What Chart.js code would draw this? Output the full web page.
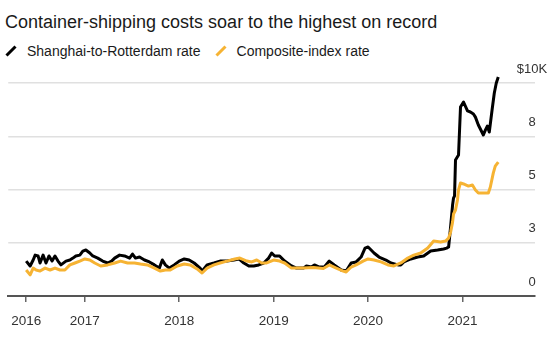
<!DOCTYPE html>
<html>
<head>
<meta charset="utf-8">
<script src="https://cdn.jsdelivr.net/npm/chart.js@4.4.1/dist/chart.umd.min.js"></script>
<style>
  html, body { margin: 0; padding: 0; background: #fff; }
  #wrap { position: relative; width: 554px; height: 337px; overflow: hidden;
          font-family: "Liberation Sans", Arial, Helvetica, sans-serif; }
  #title { position: absolute; left: 5px; top: 13px; font-size: 18px; line-height: 18px;
           color: #1a1a1a; white-space: nowrap; }
  #legend { position: absolute; left: 5px; top: 44px; font-size: 14px; line-height: 14px;
            color: #1a1a1a; white-space: nowrap; display: flex; align-items: center; }
  .key { display: flex; align-items: center; margin-right: 14px; }
  .key svg { margin-right: 10px; }
  canvas { position: absolute; left: 0; top: 0; }
</style>
</head>
<body>
<div id="wrap">
  <div id="title">Container-shipping costs soar to the highest on record</div>
  <div id="legend"></div>
  <canvas id="chart" width="554" height="337"></canvas>
</div>
<script>
// Weekly freight rates, US$ per 40-ft container; dates as decimal years
const srDates = [
  2016.379, 2016.421, 2016.453, 2016.474, 2016.505, 2016.526, 2016.558, 2016.589, 2016.621, 2016.653,
  2016.684, 2016.716, 2016.747, 2016.800, 2016.842, 2016.874, 2016.905, 2016.947, 2016.979,
  2017.011, 2017.053, 2017.084, 2017.137, 2017.189, 2017.242, 2017.284, 2017.316, 2017.368, 2017.421,
  2017.474, 2017.505, 2017.537, 2017.579, 2017.632, 2017.684, 2017.737, 2017.789, 2017.821, 2017.853,
  2017.895, 2017.947,
  2018.000, 2018.053, 2018.105, 2018.158, 2018.221, 2018.242, 2018.295, 2018.368, 2018.432, 2018.505,
  2018.579, 2018.632, 2018.684, 2018.737, 2018.789, 2018.842, 2018.895, 2018.947, 2018.979,
  2019.011, 2019.063, 2019.116, 2019.189, 2019.242, 2019.316, 2019.347, 2019.400, 2019.432, 2019.484,
  2019.537, 2019.589, 2019.642, 2019.716, 2019.768, 2019.821, 2019.874, 2019.926, 2019.968,
  2020.000, 2020.032, 2020.063, 2020.116, 2020.189, 2020.242, 2020.316, 2020.347, 2020.379, 2020.453,
  2020.526, 2020.589, 2020.663, 2020.737, 2020.800, 2020.832, 2020.853, 2020.874, 2020.895, 2020.905,
  2020.916, 2020.926, 2020.958, 2020.979,
  2021.011, 2021.053, 2021.084, 2021.116, 2021.137, 2021.168, 2021.200, 2021.221, 2021.242, 2021.263,
  2021.284, 2021.316, 2021.337, 2021.358, 2021.379
];
const srRates = [
  1640, 1410, 1690, 1920, 1880, 1550, 1920, 1550, 1880, 1640,
  1880, 1640, 1460, 1640, 1690, 1780, 1880, 1920, 2110,
  2160, 2020, 1880, 1780, 1640, 1550, 1640, 1780, 1920, 1880,
  1780, 1970, 1780, 1830, 1690, 1600, 1460, 1310, 1690, 1460,
  1310, 1460,
  1640, 1740, 1690, 1550, 1310, 1170, 1460, 1550, 1640, 1640,
  1690, 1740, 1550, 1410, 1410, 1460, 1550, 1780, 2020,
  1880, 1880, 1640, 1410, 1310, 1310, 1410, 1360, 1460, 1360,
  1360, 1640, 1460, 1220, 1170, 1550, 1600, 1830, 2250,
  2300, 2160, 2020, 1830, 1690, 1550, 1460, 1460, 1600, 1740,
  1830, 1880, 2110, 2160, 2210, 2250, 2300, 3240, 4270, 4600,
  4700, 6390, 6620, 8870,
  9110, 8690, 8640, 8550, 8400, 8030, 7750, 7560, 7790, 7980,
  7700, 8830, 9530, 10000, 10280
];
const ciDates = [
  2016.379, 2016.421, 2016.453, 2016.484, 2016.526, 2016.579, 2016.632, 2016.684, 2016.737, 2016.789,
  2016.842, 2016.895, 2016.947,
  2017.000, 2017.053, 2017.105, 2017.168, 2017.242, 2017.316, 2017.379, 2017.453, 2017.526, 2017.589,
  2017.663, 2017.737, 2017.800, 2017.853, 2017.905, 2017.979,
  2018.053, 2018.116, 2018.189, 2018.242, 2018.295, 2018.368, 2018.432, 2018.505, 2018.589, 2018.642,
  2018.716, 2018.768, 2018.821, 2018.874, 2018.926,
  2019.000, 2019.063, 2019.116, 2019.189, 2019.242, 2019.316, 2019.421, 2019.526, 2019.589, 2019.663,
  2019.737, 2019.768, 2019.821, 2019.874, 2019.947,
  2020.000, 2020.063, 2020.137, 2020.211, 2020.274, 2020.347, 2020.421, 2020.484, 2020.558, 2020.632,
  2020.695, 2020.768, 2020.821, 2020.853, 2020.874, 2020.895, 2020.905, 2020.926, 2020.947, 2020.958,
  2020.979,
  2021.011, 2021.063, 2021.105, 2021.137, 2021.168, 2021.221, 2021.274, 2021.295, 2021.326, 2021.347,
  2021.379
];
const ciRates = [
  1220, 990, 1310, 1220, 1170, 1310, 1220, 1310, 1220, 1220,
  1460, 1550, 1640,
  1740, 1690, 1550, 1410, 1460, 1550, 1640, 1550, 1550, 1500,
  1460, 1310, 1170, 1220, 1220, 1410,
  1500, 1460, 1270, 1080, 1310, 1460, 1550, 1640, 1740, 1780,
  1640, 1600, 1690, 1550, 1550,
  1690, 1640, 1550, 1310, 1310, 1310, 1340, 1290, 1460, 1310,
  1170, 1130, 1360, 1460, 1640,
  1740, 1690, 1600, 1460, 1410, 1550, 1780, 1920, 2020, 2250,
  2580, 2540, 2580, 2720, 3000, 3470, 3850, 4040, 4510, 4980,
  5310,
  5260, 5160, 5210, 4980, 4840, 4840, 4840, 5120, 5770, 6100,
  6290
];
const yTickValues = [0, 2500, 5000, 7500, 10000];
const xTickYears = [2017, 2018, 2019, 2020, 2021];

const FONT = '"Liberation Sans", Arial, Helvetica, sans-serif';

function yLabel(v) {
  const k = Math.round(v / 1000);
  return v === yTickValues[yTickValues.length - 1] ? '$' + k + 'K' : String(k);
}

// Value labels sit just above each horizontal gridline, at the right edge
const rightAxisLabels = {
  id: 'rightAxisLabels',
  afterDraw(chart) {
    const s = chart.scales.y;
    const ctx = chart.ctx;
    ctx.save();
    ctx.font = '13px ' + FONT;
    ctx.fillStyle = '#333';
    ctx.textAlign = 'center';
    ctx.textBaseline = 'middle';
    s.ticks.forEach(t => {
      ctx.fillText(yLabel(t.value), chart.chartArea.right - 3, s.getPixelForValue(t.value) - 14);
    });
    ctx.restore();
  }
};

const chart = new Chart(document.getElementById('chart'), {
  type: 'line',
  data: {
    datasets: [
      {
        label: 'Shanghai-to-Rotterdam rate',
        data: srDates.map((d, i) => ({ x: d, y: srRates[i] })),
        borderColor: '#000000',
        borderWidth: 3,
        pointRadius: 0,
        tension: 0,
        borderJoinStyle: 'round',
        order: 1
      },
      {
        label: 'Composite-index rate',
        data: ciDates.map((d, i) => ({ x: d, y: ciRates[i] })),
        borderColor: '#f6b333',
        borderWidth: 3,
        pointRadius: 0,
        tension: 0,
        borderJoinStyle: 'round',
        order: 0
      }
    ]
  },
  options: {
    responsive: false,
    animation: false,
    devicePixelRatio: 1,
    layout: { padding: { left: 5, right: 19, top: 72.4, bottom: 0 } },
    plugins: { legend: { display: false }, tooltip: { enabled: false } },
    scales: {
      x: {
        type: 'linear',
        min: 2016.189,
        max: 2021.768,
        afterBuildTicks: s => { s.ticks = [srDates[0]].concat(xTickYears).map(v => ({ value: v })); },
        afterFit: s => { s.height = 41; },
        grid: { drawOnChartArea: false, drawTicks: true, tickLength: 6, color: '#666', lineWidth: 1.5 },
        border: { display: true, color: '#555', width: 2 },
        ticks: {
          autoSkip: false, maxRotation: 0, padding: 11,
          color: '#333', font: { family: FONT, size: 13.5 },
          callback: v => String(Math.floor(v))
        }
      },
      y: {
        type: 'linear',
        position: 'right',
        min: 0,
        max: 10500,
        afterBuildTicks: s => { s.ticks = yTickValues.map(v => ({ value: v })); },
        afterFit: s => { s.width = 0; },
        grid: { color: '#e0e0e0', lineWidth: 1.5, drawTicks: false },
        border: { display: false },
        ticks: { display: false }
      }
    }
  },
  plugins: [rightAxisLabels]
});

// Legend built from the chart's datasets
const legend = document.getElementById('legend');
chart.data.datasets.forEach(ds => {
  const key = document.createElement('span');
  key.className = 'key';
  key.innerHTML =
    '<svg width="12" height="12" viewBox="0 0 12 12"><line x1="1.5" y1="10.5" x2="10.5" y2="1.5" stroke="' +
    ds.borderColor + '" stroke-width="3" stroke-linecap="butt"/></svg>';
  const txt = document.createElement('span');
  txt.textContent = ds.label;
  key.appendChild(txt);
  legend.appendChild(key);
});
</script>
</body>
</html>
